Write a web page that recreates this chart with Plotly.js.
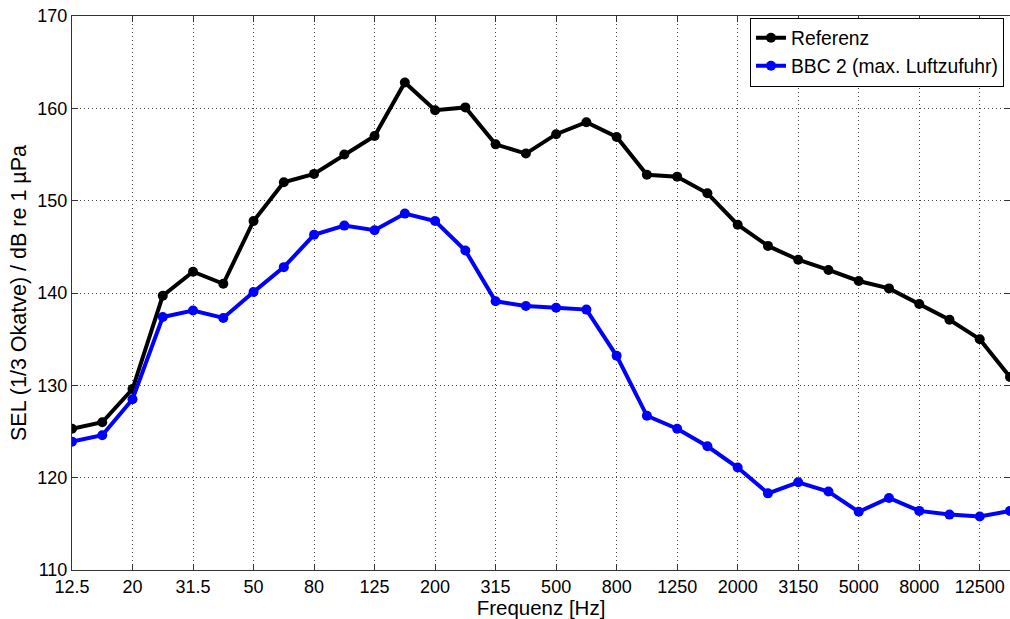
<!DOCTYPE html>
<html>
<head>
<meta charset="utf-8">
<script src="https://cdn.plot.ly/plotly-3.0.1.min.js"></script>
<style>html,body{margin:0;padding:0;background:#fff;}#chart{width:1010px;height:619px;}</style>
</head>
<body>
<div id="chart"></div>
<script>
var frequencies = ["12.5","16","20","25","31.5","40","50","63","80","100","125","160","200","250","315","400","500","630","800","1000","1250","1600","2000","2500","3150","4000","5000","6300","8000","10000","12500","16000"];
var tickLabels = ["12.5","20","31.5","50","80","125","200","315","500","800","1250","2000","3150","5000","8000","12500"];
var referenz = [125.3,126.0,129.6,139.7,142.3,141.0,147.8,152.0,152.9,155.0,157.0,162.8,159.8,160.1,156.1,155.1,157.2,158.5,156.9,152.8,152.6,150.8,147.4,145.1,143.6,142.5,141.3,140.5,138.8,137.1,135.0,130.9];
var bbc2 = [123.9,124.6,128.5,137.4,138.1,137.3,140.1,142.8,146.3,147.3,146.8,148.6,147.8,144.6,139.1,138.6,138.4,138.2,133.2,126.7,125.3,123.4,121.1,118.3,119.5,118.5,116.3,117.8,116.4,116.0,115.8,116.4];

var fontFam = "Liberation Sans, Arial, Helvetica, sans-serif";
var traces = [
  {x: frequencies, y: referenz, name: "Referenz", type: "scatter", mode: "lines+markers",
   line: {color: "#000000", width: 4}, marker: {color: "#000000", size: 10, symbol: "circle"}},
  {x: frequencies, y: bbc2, name: "BBC 2 (max. Luftzufuhr)", type: "scatter", mode: "lines+markers",
   line: {color: "#0000ff", width: 4}, marker: {color: "#0000ff", size: 10, symbol: "circle"}}
];
var axCommon = {
  showline: true, linecolor: "#333", linewidth: 1, mirror: "ticks",
  ticks: "inside", ticklen: 6, tickcolor: "#333",
  showgrid: true, gridcolor: "#444", griddash: "1px,3px", gridwidth: 1,
  zeroline: false, tickfont: {family: fontFam, size: 18, color: "#000"}
};
var layout = {
  width: 1010, height: 619,
  margin: {l: 72, r: 0, t: 16, b: 49},
  paper_bgcolor: "#fff", plot_bgcolor: "#fff",
  font: {family: fontFam, size: 18, color: "#000"},
  showlegend: true,
  legend: {x: 0.7228, y: 0.997, xanchor: "left", yanchor: "top", bgcolor: "#fff",
           bordercolor: "#000", borderwidth: 1, font: {family: fontFam, size: 19.3, color: "#000"},
           tracegroupgap: 0, itemwidth: 30},
  xaxis: Object.assign({}, axCommon, {
    type: "category", range: [0, 31], automargin: false,
    tickmode: "array", tickvals: tickLabels, ticktext: tickLabels,
    title: {text: "Frequenz [Hz]", font: {family: fontFam, size: 20.5, color: "#000"}, standoff: 5}
  }),
  yaxis: Object.assign({}, axCommon, {
    range: [110, 170], dtick: 10, automargin: false,
    title: {text: "SEL (1/3 Okatve) / dB re 1 µPa", font: {family: fontFam, size: 21.5, color: "#000"}, standoff: 4}
  })
};
Plotly.newPlot("chart", traces, layout, {displayModeBar: false, staticPlot: true});
</script>
</body>
</html>
